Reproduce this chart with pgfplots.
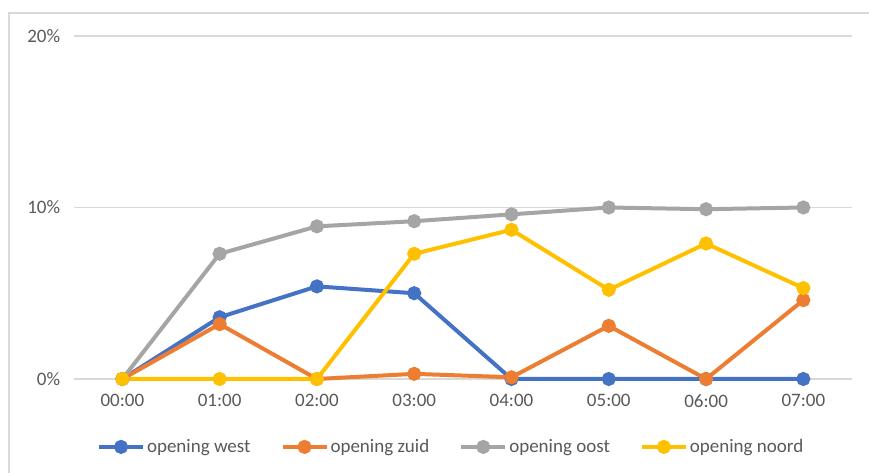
\documentclass[border=0pt]{standalone}
\usepackage{pgfplots}
\pgfplotsset{compat=1.18}
\usepackage{fontspec}
\setmainfont{Carlito}

\definecolor{cwest}{HTML}{4472C4}
\definecolor{czuid}{HTML}{ED7D31}
\definecolor{coost}{HTML}{A5A5A5}
\definecolor{cnoord}{HTML}{FFC000}
\definecolor{gridgray}{HTML}{D9D9D9}
\definecolor{textgray}{HTML}{595959}

\begin{document}
\begin{tikzpicture}
\useasboundingbox (-73.7pt,-94pt) rectangle (795.3pt,379pt);
\draw[gridgray, line width=2pt] (-64.7pt,-110pt) -- (-64.7pt,366pt) -- (810pt,366pt);
\begin{axis}[
    scale only axis,
    width=778.3pt, height=343pt,
    xmin=-0.5, xmax=7.5,
    ymin=0, ymax=20,
    clip=false,
    axis line style={draw=none},
    major tick length=0pt,
    ymajorgrids,
    major grid style={gridgray, line width=1.5pt},
    xtick={0,...,7},
    xticklabels={00:00,01:00,02:00,03:00,04:00,05:00,06:00,07:00},
    ytick={0,10,20},
    yticklabels={0\%,10\%,20\%},
    /pgf/number format/assume math mode=true,
    tick label style={font=\fontsize{19}{23}\selectfont, text=textgray},
    xticklabel style={yshift=-12pt},
    yticklabel style={xshift=-10pt},
    every axis plot/.append style={line width=4pt, mark=*, mark size=5pt},
    legend columns=4,
    legend style={
        at={(0.485,-0.198)}, anchor=center, draw=none, fill=none,
        font=\fontsize{19}{23}\selectfont, text=textgray,
        /tikz/every odd column/.append style={column sep=0pt},
        /tikz/every even column/.append style={column sep=28pt},
        nodes={inner xsep=2pt},
    },
    legend image code/.code={
        \draw[mark repeat=2, mark phase=2, #1]
            plot coordinates {(0pt,0pt) (22pt,0pt) (44pt,0pt)};
    },
]
\addplot[cwest, mark options={fill=cwest}] coordinates {
    (0,0) (1,3.6) (2,5.4) (3,5.0) (4,0) (5,0) (6,0) (7,0)
};
\addlegendentry{opening west}
\addplot[czuid, mark options={fill=czuid}] coordinates {
    (0,0) (1,3.2) (2,0) (3,0.3) (4,0.1) (5,3.1) (6,0) (7,4.6)
};
\addlegendentry{opening zuid}
\addplot[coost, mark options={fill=coost}] coordinates {
    (0,0) (1,7.3) (2,8.9) (3,9.2) (4,9.6) (5,10.0) (6,9.9) (7,10.0)
};
\addlegendentry{opening oost}
\addplot[cnoord, mark options={fill=cnoord}] coordinates {
    (0,0) (1,0) (2,0) (3,7.3) (4,8.7) (5,5.2) (6,7.9) (7,5.3)
};
\addlegendentry{opening noord}
\end{axis}
\end{tikzpicture}
\end{document}
